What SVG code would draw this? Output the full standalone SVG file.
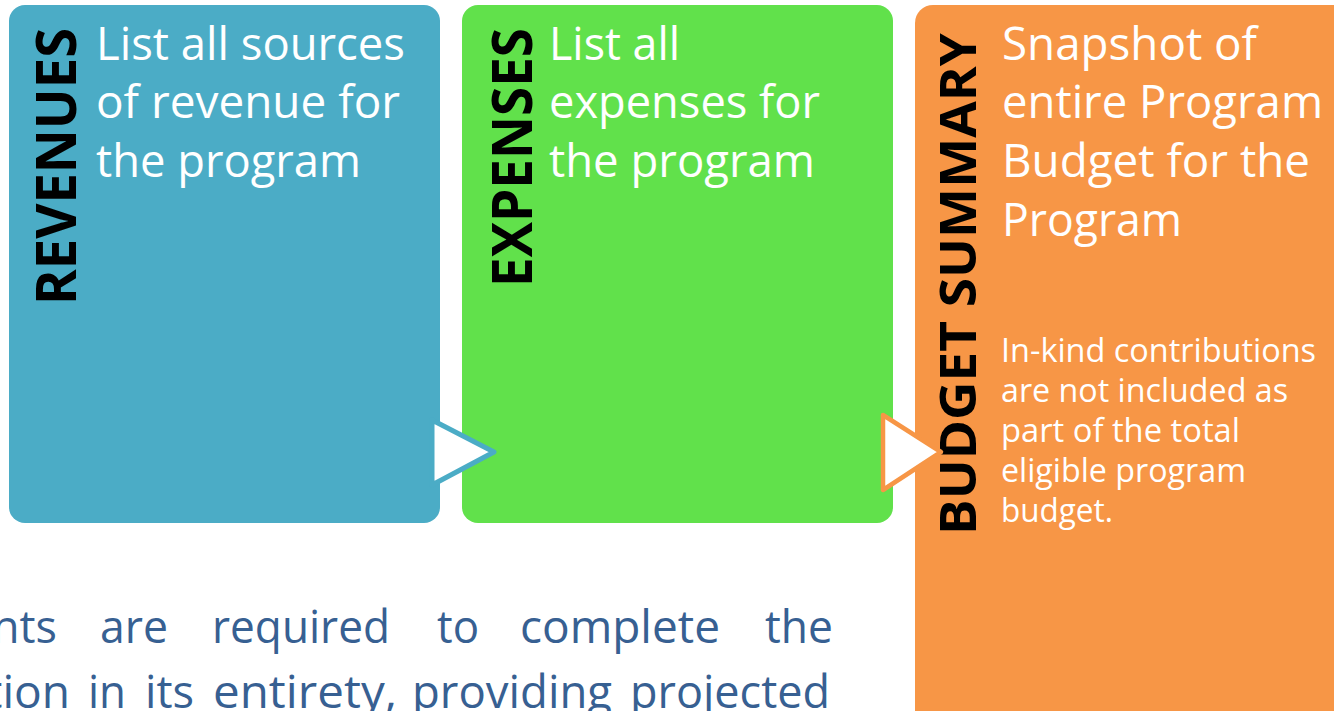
<svg xmlns="http://www.w3.org/2000/svg" width="1334" height="711" viewBox="0 0 1334 711">
<style>
.body{font-family:"Open Sans","Noto Sans","Liberation Sans",sans-serif;font-size:46px;fill:#ffffff}
.small{font-family:"Open Sans","Noto Sans","Liberation Sans",sans-serif;font-size:32.5px;fill:#ffffff}
.lbl{font-family:"Open Sans","Noto Sans","Liberation Sans",sans-serif;font-weight:bold;font-size:56px;fill:#000000}
.para{font-family:"Open Sans","Noto Sans","Liberation Sans",sans-serif;font-size:45.5px;fill:#376092}
</style>
<rect width="1334" height="711" fill="#ffffff"/>
<g id="revenues">
<rect x="9" y="5" width="431" height="518" rx="16" fill="#4BACC6"/>
<text class="lbl" transform="translate(76,305) rotate(-90)" textLength="277" lengthAdjust="spacingAndGlyphs">REVENUES</text>
<text class="body" x="96" y="60" textLength="309" lengthAdjust="spacingAndGlyphs">List all sources</text>
<text class="body" x="96" y="118" textLength="304" lengthAdjust="spacingAndGlyphs">of revenue for</text>
<text class="body" x="96" y="177" textLength="265" lengthAdjust="spacingAndGlyphs">the program</text>
</g>
<g id="expenses">
<rect x="462" y="5" width="431" height="518" rx="16" fill="#61E14B"/>
<text class="lbl" transform="translate(532,287) rotate(-90)" textLength="259" lengthAdjust="spacingAndGlyphs">EXPENSES</text>
<text class="body" x="549" y="60" textLength="131" lengthAdjust="spacingAndGlyphs">List all</text>
<text class="body" x="549" y="118" textLength="271" lengthAdjust="spacingAndGlyphs">expenses for</text>
<text class="body" x="549" y="177" textLength="266" lengthAdjust="spacingAndGlyphs">the program</text>
</g>
<g id="budget-summary">
<rect x="915" y="5" width="440" height="730" rx="18" fill="#F79646"/>
<text class="lbl" style="font-size:50px" transform="translate(976,535) rotate(-90)" textLength="502" lengthAdjust="spacingAndGlyphs">BUDGET SUMMARY</text>
<text class="body" x="1002" y="60" textLength="255" lengthAdjust="spacingAndGlyphs">Snapshot of</text>
<text class="body" x="1002" y="118" textLength="321" lengthAdjust="spacingAndGlyphs">entire Program</text>
<text class="body" x="1002" y="177" textLength="308" lengthAdjust="spacingAndGlyphs">Budget for the</text>
<text class="body" x="1002" y="236" textLength="180" lengthAdjust="spacingAndGlyphs">Program</text>
<text class="small" x="1001" y="362" textLength="315" lengthAdjust="spacingAndGlyphs">In-kind contributions</text>
<text class="small" x="1001" y="402" textLength="287" lengthAdjust="spacingAndGlyphs">are not included as</text>
<text class="small" x="1001" y="442" textLength="239" lengthAdjust="spacingAndGlyphs">part of the total</text>
<text class="small" x="1001" y="482" textLength="245" lengthAdjust="spacingAndGlyphs">eligible program</text>
<text class="small" x="1001" y="522" textLength="112" lengthAdjust="spacingAndGlyphs">budget.</text>
</g>
<g id="connectors">
<polygon points="432,420 494,452 432,485" fill="#ffffff" stroke="#4BACC6" stroke-width="5" stroke-linejoin="round"/>
<polygon points="883,415 941,452 883,490" fill="#ffffff" stroke="#F79646" stroke-width="4.5" stroke-linejoin="round"/>
</g>
<g id="paragraph">
<text class="para" x="-8" y="643" textLength="65" lengthAdjust="spacingAndGlyphs">nts</text>
<text class="para" x="100" y="643" textLength="68" lengthAdjust="spacingAndGlyphs">are</text>
<text class="para" x="212" y="643" textLength="178" lengthAdjust="spacingAndGlyphs">required</text>
<text class="para" x="437" y="643" textLength="42" lengthAdjust="spacingAndGlyphs">to</text>
<text class="para" x="520" y="643" textLength="200" lengthAdjust="spacingAndGlyphs">complete</text>
<text class="para" x="765" y="643" textLength="68" lengthAdjust="spacingAndGlyphs">the</text>
<text class="para" x="-14" y="708" textLength="84" lengthAdjust="spacingAndGlyphs">tion</text>
<text class="para" x="88" y="708" textLength="38" lengthAdjust="spacingAndGlyphs">in</text>
<text class="para" x="145" y="708" textLength="49" lengthAdjust="spacingAndGlyphs">its</text>
<text class="para" x="213" y="708" textLength="184" lengthAdjust="spacingAndGlyphs">entirety,</text>
<text class="para" x="412" y="708" textLength="200" lengthAdjust="spacingAndGlyphs">providing</text>
<text class="para" x="630" y="708" textLength="200" lengthAdjust="spacingAndGlyphs">projected</text>
</g>
</svg>
